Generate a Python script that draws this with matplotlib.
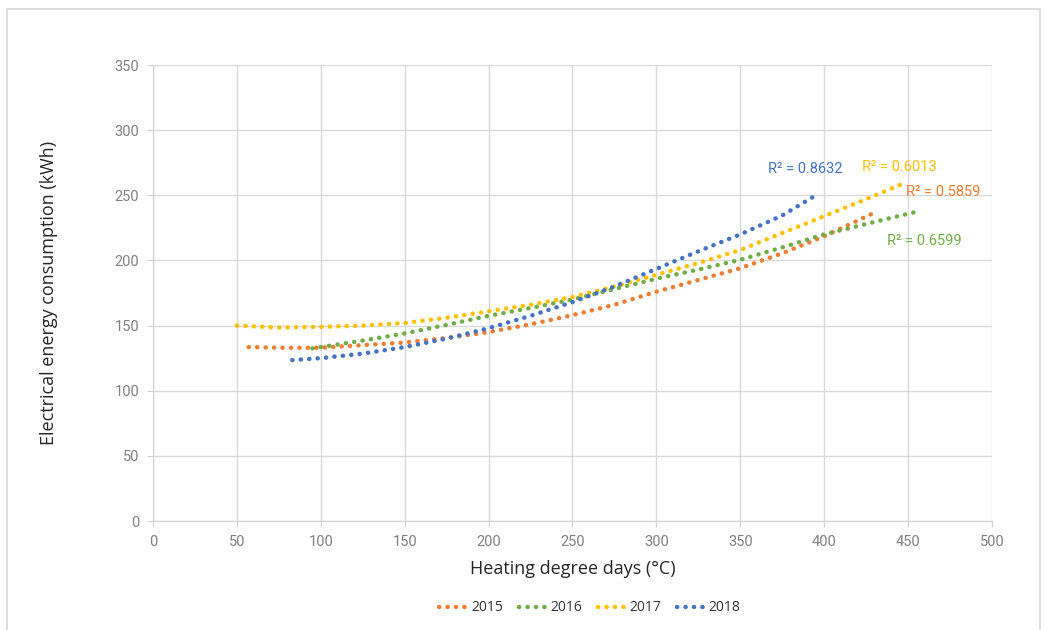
import matplotlib
matplotlib.use("Agg")
import matplotlib.pyplot as plt
from matplotlib.patches import Rectangle

# Trendline points (heating degree days, kWh)
x_2015 = [57, 75, 100, 125, 150, 175, 200, 225, 250, 275, 300, 325, 350, 375, 400, 428]
y_2015 = [133.5, 133, 133, 135, 137, 140.5, 145, 151, 158, 166, 176, 185, 194, 205.5, 218.5, 235.5]

x_2016 = [95, 100, 125, 150, 175, 200, 225, 250, 275, 300, 325, 350, 375, 400, 425, 457]
y_2016 = [132.5, 133.5, 138.5, 144, 150.5, 157.5, 163.5, 170, 178, 186, 193, 200.5, 210, 220, 228, 238]

x_2017 = [50, 75, 100, 125, 150, 175, 200, 225, 250, 275, 300, 325, 350, 375, 400, 425, 449]
y_2017 = [150, 148.5, 149, 150, 152, 156, 161, 166, 172, 180, 189, 198, 208, 221, 234, 247, 260]

x_2018 = [83, 100, 125, 150, 175, 200, 225, 250, 275, 300, 325, 350, 375, 395]
y_2018 = [123.5, 125, 128.5, 133.5, 140, 148, 157.5, 168, 180, 193.5, 207, 220, 234.5, 250]

years = ["2015", "2016", "2017", "2018"]
r2_labels = ["R² = 0.5859", "R² = 0.6599", "R² = 0.6013", "R² = 0.8632"]
r2_pos = [(471, 252.5), (459.5, 215), (445, 271.5), (389, 270)]

colors = ["#ED7D31", "#70AD47", "#FFC000", "#4472C4"]
series = [(x_2015, y_2015), (x_2016, y_2016), (x_2017, y_2017), (x_2018, y_2018)]

fig = plt.figure(figsize=(10.46, 6.3), dpi=100)
ax = fig.add_axes([0.1463, 0.173, 0.802, 0.7238])

# light outer frame like the Excel chart area
fig.patches.append(Rectangle((0.0067, -0.02), 0.9876, 1.0057, transform=fig.transFigure,
                             fill=False, edgecolor="#d9d9d9", linewidth=1.2))

lines = []
for (xs, ys), c, lab in zip(series, colors, years):
    ln, = ax.plot(xs, ys, color=c, linewidth=3.2, linestyle=(0, (0.05, 1.85)),
                  dash_capstyle="round", label=lab)
    lines.append(ln)

for (tx, ty), txt, c in zip(r2_pos, r2_labels, colors):
    ax.text(tx, ty, txt, color=c, fontsize=10.5, family="Roboto", ha="center", va="center")

ax.set_xlim(0, 500)
ax.set_ylim(0, 350)
ax.set_xticks(range(0, 501, 50))
ax.set_yticks(range(0, 351, 50))
ax.grid(True, color="#d9d9d9", linewidth=1)
ax.set_axisbelow(True)
for s in ["top", "right"]:
    ax.spines[s].set_visible(False)
for s in ["left", "bottom"]:
    ax.spines[s].set_color("#d0d0d0")
ax.tick_params(length=4, color="#d0d0d0", labelcolor="#808080", labelsize=10.5, pad=6)
for lbl in ax.get_xticklabels() + ax.get_yticklabels():
    lbl.set_family("Roboto")

ax.set_xlabel("Heating degree days (°C)", fontsize=13, family="Open Sans", color="#262626")
ax.set_ylabel("Electrical energy consumption (kWh)", fontsize=13, family="Open Sans", color="#262626")
ax.xaxis.set_label_coords(0.5, -0.086)
ax.yaxis.set_label_coords(-0.113, 0.5)

fig.legend(handles=lines, loc="center", bbox_to_anchor=(0.564, 0.035), ncol=4, frameon=False,
           handlelength=2.2, columnspacing=1.1, handletextpad=0.1,
           prop={"family": "Open Sans", "size": 10}, labelcolor="#333333")

fig.savefig("out.png", dpi=100)
